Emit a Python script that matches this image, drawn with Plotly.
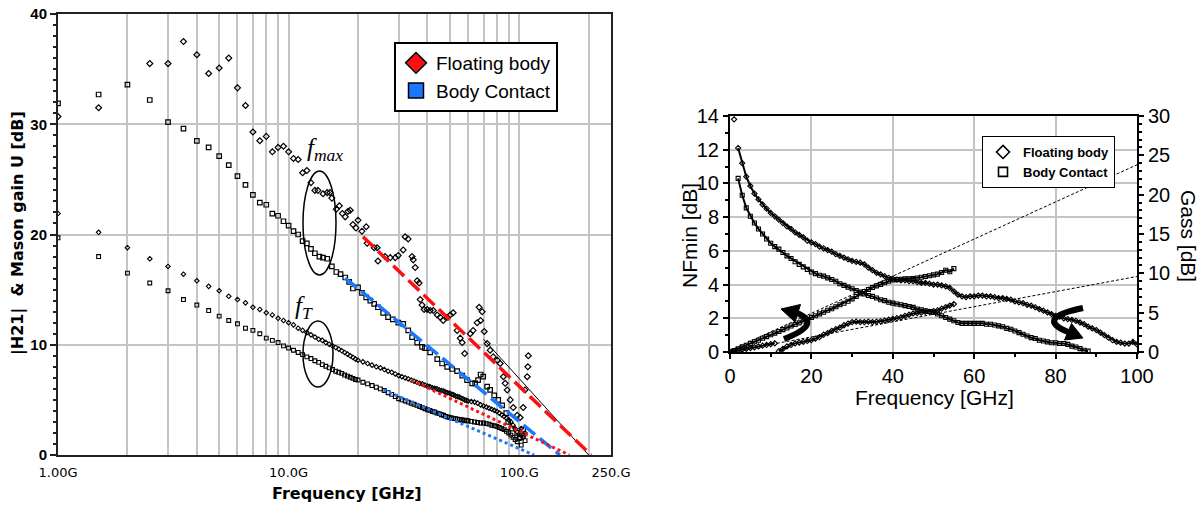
import math
import plotly.graph_objects as go

W, H = 1204, 507

# ---------------- Left chart data (frequency in GHz, gain in dB) ----------------
fmax_fb_f = [1.0,1.5,2.5,3.0,3.5,4.0,4.5,5.0,5.5,6.0,6.5,7.0,7.5,8.0,8.5,9.0,9.5,10.0,10.5,11.0,
             11.5,12.0,12.5,13.0,13.4,14.1,14.7,15.1,15.4,16.1,16.6,17.1,17.6,18.1,18.5,19.0,19.6,20.0,20.8,21.7,
             21.9,23.5,24.2,24.4,26.2,27.6,29.0,29.9,31.4,32.0,33.0,34.3,34.7,35.4,36.1,36.8,37.2,37.9,38.7,39.9,
             41.1,42.4,44.1,45.4,46.8,48.7,50.2,51.7,53.8,55.5,56.6,58.0,61.3,63.1,65.7,67.0,68.0,69.1,70.5,72.6,
             74.8,77.1,80.3,82.7,85.3,86.9,88.7,91.4,94.2,98.0,100.9,104.0,106.0,108.3,109.0,109.5]
fmax_fb_u = [30.7,31.5,35.5,35.5,37.5,36.3,34.6,35.1,36.0,33.3,31.7,29.3,28.5,28.9,27.5,27.9,28.0,27.5,26.9,26.8,
             25.6,25.8,24.7,24.0,24.0,23.7,23.8,23.8,23.3,22.3,22.6,21.9,21.6,22.1,22.2,20.9,20.6,21.3,20.3,20.7,
             19.2,18.8,18.8,17.6,18.0,17.9,17.9,18.1,18.6,19.8,19.6,18.0,17.7,17.0,15.8,15.6,14.1,13.6,13.2,13.2,
             13.1,13.1,12.7,12.5,12.2,12.5,12.7,12.9,11.3,10.6,10.2,9.2,11.0,11.3,12.0,13.4,12.2,13.0,11.2,10.1,
             9.5,8.9,8.6,8.3,7.1,6.5,5.9,5.0,4.3,3.6,3.4,4.3,5.9,7.1,8.0,9.0]

fmax_bc_f = [1.0,1.5,2.0,2.5,3.0,3.5,4.0,4.5,5.0,5.5,6.0,6.5,7.0,7.5,8.0,8.5,9.0,9.5,10.0,10.5,11.0,11.5,12.0,
             12.5,13.0,13.6,14.1,14.7,15.4,16.1,16.8,17.6,18.3,19.0,20.0,20.8,21.7,22.6,23.5,24.4,25.7,27.0,28.3,
             29.9,31.4,33.0,34.3,36.1,37.9,39.0,41.1,44.1,46.3,48.7,51.2,53.8,56.6,59.4,62.5,64.4,66.3,68.0,69.8,
             72.6,74.8,77.9,81.1,84.3,87.8,89.6,93.0,98.0,100.9,104.0]
fmax_bc_u = [31.9,32.7,33.6,32.2,30.2,29.6,28.5,27.9,27.1,26.3,25.3,24.5,23.6,22.9,22.7,21.9,21.7,21.2,20.8,20.3,20.0,19.4,19.2,
             18.7,18.3,18.0,17.9,17.8,17.1,16.6,16.4,16.1,15.7,15.1,15.2,14.7,14.3,14.0,13.7,13.4,12.9,12.5,12.3,
             12.0,11.9,11.3,10.7,10.2,9.8,9.7,9.3,8.7,8.3,8.0,7.8,7.6,7.2,6.8,6.5,6.5,6.8,7.3,7.1,
             6.2,5.9,5.4,5.0,4.5,3.8,3.0,2.4,2.0,1.6,2.3]

ft_f = [1.0,1.5,2.0,2.5,3.0,3.5,4.0,4.5,5.0,5.5,6.0,6.5,7.0,7.5,8.0,8.5,9.0,9.5,10.0,
        10.5,11.0,11.5,12.0,12.5,13.0,13.5,14.0,14.5,15.0,15.5,16.0,16.5,17.0,17.5,18.0,18.5,19.0,19.5,20.0,
        21,22,23,24,25,26,27,28,29,30,31,32,33,34,35,36,37,38,39,40,
        41,42,43,44,45,46,47,48,49,50,51,52,53,54,55,56,57,58,59,60,
        62,64,66,68,70,72,74,76,78,80,82,84,86,88,90,92,94,96,98,100,102,104,106]
ft_fb_h21 = [21.9,20.2,18.8,17.8,17.1,16.4,15.8,15.3,14.9,14.4,14.1,13.8,13.4,13.2,12.9,12.7,12.4,12.2,12.0,
             11.8,11.5,11.3,11.1,10.9,10.7,10.5,10.4,10.2,10.05,9.9,9.75,9.6,9.45,9.3,9.15,9.0,8.85,8.7,8.6,
             8.45,8.3,8.15,8.0,7.9,7.75,7.6,7.5,7.35,7.2,7.1,7.0,6.9,6.8,6.7,6.6,6.5,6.45,6.35,6.25,
             6.2,6.1,6.05,6.0,5.9,5.85,5.8,5.7,5.65,5.6,5.5,5.45,5.35,5.3,5.25,5.15,5.1,5.0,4.95,4.9,
             4.85,4.8,4.7,4.55,4.45,4.35,4.25,4.15,4.05,3.95,3.8,3.65,3.5,3.35,3.2,3.0,2.7,2.4,2.1,1.9,2.4,1.6,2.0]
ft_bc_h21 = [19.7,18.0,16.5,15.6,14.9,14.1,13.6,13.1,12.6,12.2,11.9,11.5,11.3,11.0,10.6,10.4,10.2,9.9,9.7,
             9.5,9.3,9.1,8.9,8.75,8.55,8.4,8.2,8.05,7.9,7.75,7.6,7.5,7.4,7.25,7.15,7.05,6.95,6.85,6.8,
             6.6,6.45,6.3,6.15,6.0,5.85,5.65,5.5,5.3,5.1,5.0,4.9,4.8,4.7,4.6,4.5,4.4,4.3,4.2,4.1,
             4.05,3.95,3.9,3.8,3.75,3.65,3.6,3.5,3.45,3.4,3.35,3.3,3.3,3.25,3.2,3.2,3.15,3.15,3.1,3.1,
             3.05,3.0,2.95,2.9,2.9,2.85,2.8,2.7,2.65,2.6,2.5,2.4,2.3,2.15,2.0,1.8,1.6,1.4,1.2,1.5,0.9,1.8,1.3]

# extrapolation lines (end points)
fit_fmax_fb_f, fit_fmax_fb_u = [21, 205], [19.8, 0]
fit_fmax_bc_f, fit_fmax_bc_u = [17.6, 150], [16.05, 0]
fit_ft_fb_f, fit_ft_fb_u = [34, 165], [6.8, 0]
fit_ft_bc_f, fit_ft_bc_u = [25.8, 116], [5.9, 0]
fit_black_f, fit_black_u = [70, 200], [10.5, 0]

left_x_tickvals = [1,2,3,4,5,6,7,8,9,10,20,30,40,50,60,70,80,90,100,200,250]
left_x_ticktext = ["1.00G","","","","","","","","","10.0G","","","","","","","","","100.G","","250.G"]

# ---------------- Right chart data ----------------
nf_fb_f = [1,1.5] + list(range(2, 101))
nf_fb = [13.8, None,
         12.1,11.2,10.4,9.85,9.4,9.05,8.75,8.5,8.25,
         8.05,7.85,7.65,7.45,7.3,7.1,6.95,6.8,6.6,6.5,
         6.4,6.25,6.15,6.05,5.95,5.8,5.7,5.6,5.5,5.4,
         5.35,5.3,5.2,5.0,4.85,4.7,4.6,4.5,4.4,4.35,
         4.3,4.25,4.25,4.2,4.2,4.15,4.1,4.1,4.05,4.0,
         4.0,3.95,3.9,3.8,3.6,3.4,3.3,3.25,3.3,3.3,
         3.35,3.35,3.3,3.3,3.25,3.2,3.2,3.15,3.1,3.0,
         2.95,2.9,2.8,2.75,2.65,2.55,2.45,2.35,2.25,2.15,
         2.1,2.0,1.95,1.9,1.85,1.75,1.65,1.5,1.4,1.3,
         1.15,1.0,0.85,0.7,0.6,0.55,0.5,0.5,0.6,0.45]

nf_bc_f = list(range(2, 89))
nf_bc = [10.3,9.3,8.55,8.05,7.65,7.3,7.0,6.7,6.45,
         6.25,6.1,5.9,5.7,5.55,5.35,5.2,5.05,4.9,4.75,
         4.65,4.55,4.5,4.4,4.3,4.2,4.05,3.95,3.85,3.75,
         3.65,3.55,3.45,3.35,3.3,3.2,3.1,3.05,2.95,2.9,
         2.85,2.8,2.75,2.7,2.65,2.55,2.5,2.45,2.4,2.35,
         2.25,2.15,2.05,1.95,1.85,1.75,1.7,1.7,1.7,1.7,
         1.7,1.7,1.65,1.65,1.6,1.55,1.5,1.4,1.35,1.25,
         1.15,1.05,0.95,0.85,0.8,0.7,0.65,0.6,0.55,0.55,
         0.5,0.5,0.45,0.35,0.3,0.2,0.1,0.05]

gass_bc_f = list(range(0, 56))
gass_bc = [0.0,0.2,0.4,0.65,0.85,1.1,1.3,1.5,1.75,1.95,
           2.2,2.4,2.6,2.85,3.05,3.3,3.5,3.7,3.95,4.15,
           4.4,4.6,4.85,5.05,5.3,5.5,5.75,6.0,6.2,6.45,
           6.75,7.05,7.4,7.7,7.95,8.2,8.4,8.6,8.8,9.0,
           9.15,9.2,9.25,9.3,9.3,9.35,9.4,9.5,9.6,9.7,
           9.8,9.9,10.1,10.4,10.2,10.6]

gass_fb_f = list(range(0, 12)) + [11.5] + list(range(12, 56))
gass_fb = [0.0,0.1,0.2,0.3,0.4,0.5,0.6,0.7,0.8,0.9,1.0,1.1,
           None,
           0.1,0.4,0.7,0.9,1.1,1.2,1.3,1.4,1.5,
           1.7,1.9,2.2,2.4,2.7,2.9,3.1,3.4,3.6,3.8,
           3.85,3.8,3.8,3.85,3.8,3.85,3.9,4.0,4.1,4.2,
           4.3,4.4,4.6,4.75,4.9,4.95,5.0,5.1,5.1,5.2,
           5.3,5.5,5.7,5.9,6.1]

fit_gass_bc_f, fit_gass_bc = [0, 100], [0.2, 23.8]
fit_gass_fb_f, fit_gass_fb = [11.5, 100], [1.1, 9.6]

# ---------------- Figure ----------------
fig = go.Figure()
BLACK = "black"
RED = "#ff1010"
BLUE = "#1a78ff"

def mk(symbol, size=5, width=1):
    return dict(symbol=symbol, size=size, color=BLACK, line=dict(color=BLACK, width=width))

# left: thin fit line first, data on top
fig.add_trace(go.Scatter(x=fit_black_f, y=fit_black_u, mode="lines", line=dict(color=BLACK, width=1),
                         xaxis="x", yaxis="y", showlegend=False))
fig.add_trace(go.Scatter(x=fmax_fb_f, y=fmax_fb_u, mode="markers", marker=mk("diamond-open", 4.5, 1.2),
                         xaxis="x", yaxis="y", showlegend=False))
fig.add_trace(go.Scatter(x=fmax_bc_f, y=fmax_bc_u, mode="markers", marker=mk("square-open", 4.5, 1.2),
                         xaxis="x", yaxis="y", showlegend=False))
fig.add_trace(go.Scatter(x=ft_f, y=ft_fb_h21, mode="markers", marker=mk("diamond-open", 3.5, 1.1),
                         xaxis="x", yaxis="y", showlegend=False))
fig.add_trace(go.Scatter(x=ft_f, y=ft_bc_h21, mode="markers", marker=mk("square-open", 3.8, 1.1),
                         xaxis="x", yaxis="y", showlegend=False))
fig.add_trace(go.Scatter(x=fit_fmax_fb_f, y=fit_fmax_fb_u, mode="lines",
                         line=dict(color=RED, width=3.5, dash="15px,6px"), xaxis="x", yaxis="y", showlegend=False))
fig.add_trace(go.Scatter(x=fit_fmax_bc_f, y=fit_fmax_bc_u, mode="lines",
                         line=dict(color=BLUE, width=3.5, dash="15px,6px"), xaxis="x", yaxis="y", showlegend=False))
fig.add_trace(go.Scatter(x=fit_ft_fb_f, y=fit_ft_fb_u, mode="lines",
                         line=dict(color=RED, width=3, dash="3px,3px"), xaxis="x", yaxis="y", showlegend=False))
fig.add_trace(go.Scatter(x=fit_ft_bc_f, y=fit_ft_bc_u, mode="lines",
                         line=dict(color=BLUE, width=3, dash="3px,3px"), xaxis="x", yaxis="y", showlegend=False))
# left legend entries
fig.add_trace(go.Scatter(x=[None], y=[None], mode="markers", name="Floating body",
                         marker=dict(symbol="diamond", size=16, color=RED, line=dict(color=BLACK, width=1.5)),
                         xaxis="x", yaxis="y", legend="legend"))
fig.add_trace(go.Scatter(x=[None], y=[None], mode="markers", name="Body Contact",
                         marker=dict(symbol="square", size=15, color=BLUE, line=dict(color=BLACK, width=1.5)),
                         xaxis="x", yaxis="y", legend="legend"))

# right: fit lines
fig.add_trace(go.Scatter(x=fit_gass_bc_f, y=fit_gass_bc, mode="lines", line=dict(color=BLACK, width=1, dash="3px,2px"),
                         xaxis="x2", yaxis="y3", showlegend=False))
fig.add_trace(go.Scatter(x=fit_gass_fb_f, y=fit_gass_fb, mode="lines", line=dict(color=BLACK, width=1, dash="3px,2px"),
                         xaxis="x2", yaxis="y3", showlegend=False))
# right: data
rl = dict(color=BLACK, width=2)
fig.add_trace(go.Scatter(x=nf_fb_f, y=nf_fb, mode="lines+markers", line=rl, marker=mk("diamond-open", 4, 1.1),
                         xaxis="x2", yaxis="y2", showlegend=False))
fig.add_trace(go.Scatter(x=nf_bc_f, y=nf_bc, mode="lines+markers", line=rl, marker=mk("square-open", 4, 1.1),
                         xaxis="x2", yaxis="y2", showlegend=False))
fig.add_trace(go.Scatter(x=gass_bc_f, y=gass_bc, mode="lines+markers", line=rl, marker=mk("square-open", 4, 1.1),
                         xaxis="x2", yaxis="y3", showlegend=False))
fig.add_trace(go.Scatter(x=gass_fb_f, y=gass_fb, mode="lines+markers", line=rl, marker=mk("diamond-open", 4, 1.1),
                         xaxis="x2", yaxis="y3", showlegend=False))
# right legend entries
fig.add_trace(go.Scatter(x=[None], y=[None], mode="markers", name="Floating body",
                         marker=dict(symbol="diamond-open", size=10, color=BLACK, line=dict(color=BLACK, width=1.6)),
                         xaxis="x2", yaxis="y2", legend="legend2"))
fig.add_trace(go.Scatter(x=[None], y=[None], mode="markers", name="Body Contact",
                         marker=dict(symbol="square-open", size=9, color=BLACK, line=dict(color=BLACK, width=1.6)),
                         xaxis="x2", yaxis="y2", legend="legend2"))

GRID = "#c4c4c4"
ARIAL = "Liberation Sans, Arial, sans-serif"
VERD = "DejaVu Sans, Verdana, sans-serif"

def px(x):
    return x / W

def py(y):
    return 1 - y / H

shapes = [
    dict(type="circle", xref="paper", yref="paper", x0=px(303), x1=px(336), y0=py(275), y1=py(171),
         line=dict(color=BLACK, width=1.5)),
    dict(type="circle", xref="paper", yref="paper", x0=px(303), x1=px(333), y0=py(387), y1=py(321),
         line=dict(color=BLACK, width=1.5)),
]

def pt(x, y):
    return f"{px(x):.5f},{py(y):.5f}"

# curved arrows on the right chart
shapes.append(dict(type="path", xref="paper", yref="paper",
                   path=f"M {pt(797,313)} Q {pt(823,324)} {pt(784,339)}",
                   line=dict(color=BLACK, width=6)))
shapes.append(dict(type="path", xref="paper", yref="paper",
                   path=f"M {pt(781,309)} L {pt(800.5,304.5)} L {pt(795,322)} Z",
                   fillcolor=BLACK, line=dict(color=BLACK, width=1)))
shapes.append(dict(type="path", xref="paper", yref="paper",
                   path=f"M {pt(1083,308)} Q {pt(1034,318)} {pt(1068,332)}",
                   line=dict(color=BLACK, width=6)))
shapes.append(dict(type="path", xref="paper", yref="paper",
                   path=f"M {pt(1083,338)} L {pt(1064.5,340)} L {pt(1071.5,323.5)} Z",
                   fillcolor=BLACK, line=dict(color=BLACK, width=1)))

annotations = [
    dict(text="<b>Frequency [GHz]</b>", x=px(347), y=py(493), xref="paper", yref="paper", showarrow=False,
         font=dict(family=VERD, size=16, color=BLACK), xanchor="center", yanchor="middle"),
    dict(text="<b>|H21|  & Mason gain U [dB]</b>", x=px(18), y=py(233), xref="paper", yref="paper", showarrow=False,
         textangle=-90, font=dict(family=VERD, size=16, color=BLACK), xanchor="center", yanchor="middle"),
    dict(text="<i>f</i><sub><i>max</i></sub>", x=px(325), y=py(150), xref="paper", yref="paper", showarrow=False,
         font=dict(family="Liberation Serif, Times New Roman, serif", size=25, color=BLACK),
         xanchor="center", yanchor="middle"),
    dict(text="<i>f</i><sub><i>T</i></sub>", x=px(304), y=py(307), xref="paper", yref="paper", showarrow=False,
         font=dict(family="Liberation Serif, Times New Roman, serif", size=25, color=BLACK),
         xanchor="center", yanchor="middle"),
    dict(text="Frequency [GHz]", x=px(935), y=py(397), xref="paper", yref="paper", showarrow=False,
         font=dict(family=ARIAL, size=21, color=BLACK), xanchor="center", yanchor="middle"),
    dict(text="NFmin [dB]", x=px(690), y=py(236), xref="paper", yref="paper", showarrow=False, textangle=-90,
         font=dict(family=ARIAL, size=21, color=BLACK), xanchor="center", yanchor="middle"),
    dict(text="Gass [dB]", x=px(1188), y=py(236), xref="paper", yref="paper", showarrow=False, textangle=90,
         font=dict(family=ARIAL, size=21, color=BLACK), xanchor="center", yanchor="middle"),
]

fig.update_layout(
    width=W, height=H, autosize=False,
    margin=dict(l=0, r=0, t=0, b=0, autoexpand=False),
    paper_bgcolor="white", plot_bgcolor="white",
    xaxis=dict(type="log", domain=[px(58), px(611)], range=[0, math.log10(250)], automargin=False,
               tickmode="array", tickvals=left_x_tickvals, ticktext=left_x_ticktext,
               showgrid=True, gridcolor=GRID, gridwidth=1.5, zeroline=False,
               showline=True, linecolor="#222", linewidth=2, mirror=True,
               ticks="", ticklabelstandoff=4, tickfont=dict(family=VERD, size=13, color=BLACK), anchor="y"),
    yaxis=dict(domain=[py(455), py(14)], range=[0, 40], tick0=0, dtick=10, automargin=False,
               showgrid=True, gridcolor=GRID, gridwidth=1.5, zeroline=False,
               showline=True, linecolor="#222", linewidth=2, mirror=True,
               ticks="outside", ticklen=6, tickwidth=1.5, tickcolor="#222",
               minor=dict(dtick=1, ticks="outside", ticklen=3, tickcolor="#222", showgrid=False),
               tickfont=dict(family=ARIAL, size=15, color=BLACK, weight="bold"), anchor="x"),
    xaxis2=dict(domain=[px(730), px(1137)], range=[0, 100], tick0=0, dtick=20, automargin=False,
                showgrid=True, gridcolor=GRID, gridwidth=1.5, zeroline=False,
                showline=True, linecolor=BLACK, linewidth=2, mirror=True,
                ticks="outside", ticklen=5, tickwidth=1.5, tickcolor=BLACK,
                minor=dict(dtick=10, ticks="outside", ticklen=3, tickcolor=BLACK, showgrid=False),
                tickfont=dict(family=ARIAL, size=20, color=BLACK), anchor="y2"),
    yaxis2=dict(domain=[py(352), py(116)], range=[0, 14], tick0=0, dtick=2, automargin=False,
                showgrid=True, gridcolor=GRID, gridwidth=1.5, zeroline=False,
                showline=True, linecolor=BLACK, linewidth=2,
                ticks="outside", ticklen=5, tickwidth=1.5, tickcolor=BLACK,
                minor=dict(dtick=1, ticks="outside", ticklen=3, tickcolor=BLACK, showgrid=False),
                tickfont=dict(family=ARIAL, size=20, color=BLACK), anchor="x2"),
    yaxis3=dict(overlaying="y2", side="right", range=[0, 30], tick0=0, dtick=5, automargin=False,
                showgrid=False, zeroline=False, showline=True, linecolor=BLACK, linewidth=2,
                ticks="outside", ticklen=5, tickwidth=1.5, tickcolor=BLACK,
                minor=dict(dtick=1, ticks="outside", ticklen=3, tickcolor=BLACK, showgrid=False),
                tickfont=dict(family=ARIAL, size=20, color=BLACK), anchor="x2"),
    legend=dict(x=px(394), y=py(42), xanchor="left", yanchor="top", xref="paper", yref="paper",
                bgcolor="white", bordercolor=BLACK, borderwidth=2,
                font=dict(family=ARIAL, size=19, color=BLACK), tracegroupgap=0, itemwidth=30),
    legend2=dict(x=px(982), y=py(136), xanchor="left", yanchor="top", xref="paper", yref="paper",
                 bgcolor="white", bordercolor=BLACK, borderwidth=1,
                 font=dict(family=ARIAL, size=13, color=BLACK, weight="bold"), tracegroupgap=0, itemwidth=30),
    shapes=shapes,
    annotations=annotations,
    hovermode=False,
)

fig.write_html("out.html")
